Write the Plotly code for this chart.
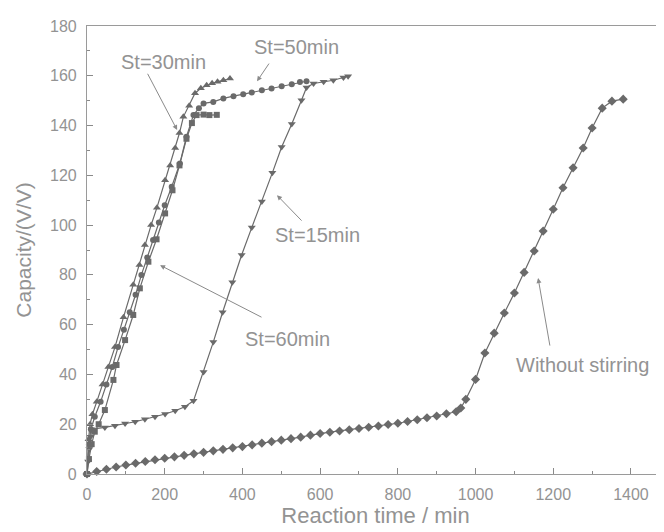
import plotly.graph_objects as go

# ---- data ----
t15 = [0, 3, 6, 9, 12, 46, 72, 98, 124, 149, 175, 201, 227, 252, 274, 300, 325, 349, 374, 398, 424, 450, 477, 501, 527, 552, 565, 583, 609, 634, 660, 672]
c15 = [0, 5, 10, 15, 18, 18.7, 19.4, 20.3, 21.0, 22.0, 23.0, 24.1, 25.4, 27.0, 29.4, 41, 53, 65, 77, 88, 99, 109.5, 121, 131.4, 140.6, 150.2, 155.3, 156.9, 157.6, 158.2, 159.3, 159.8]

t30 = [0, 4, 8, 14, 25, 40, 55, 72, 94, 119, 135, 149, 165, 180, 201, 214, 227, 238, 248, 263, 278, 293, 308, 322, 336, 351, 368]
c30 = [0, 14, 20, 24, 29, 36, 43, 51, 63, 76, 84, 92, 100, 107, 118, 124, 131, 137, 143.5, 148, 153, 155, 156.2, 157, 157.6, 158.2, 158.9]

t50 = [0, 5, 10, 20, 35, 50, 65, 80, 95, 110, 125, 140, 155, 170, 185, 200, 218, 239, 256, 274, 288, 300, 325, 351, 377, 402, 424, 450, 475, 501, 527, 548, 565]
c50 = [0, 12, 18, 23, 29, 36, 43, 51, 58, 65, 72, 80, 87, 94, 101, 108, 115.4, 124.8, 135.5, 144.2, 147, 148.9, 149.5, 150.9, 151.8, 152.6, 153.3, 154.2, 154.9, 155.8, 156.6, 157.5, 157.8]

t60 = [0, 5, 12, 20, 30, 46, 68, 76, 98, 119, 136, 158, 179, 201, 220, 238, 256, 270, 282, 300, 315, 334]
c60 = [0, 6, 12, 17, 20, 25.7, 37.8, 43.8, 53.8, 63.9, 74.6, 85.3, 94.3, 104.7, 114, 124, 134.7, 141, 144.2, 144.4, 144.2, 144.3]

t0 = [0, 25, 50, 75, 100, 125, 150, 175, 200, 225, 250, 275, 300, 325, 350, 375, 400, 425, 450, 475,
      500, 525, 550, 575, 600, 625, 650, 675, 700, 725, 750, 775, 800, 825, 850, 875, 900, 925, 950, 962,
      975, 1000, 1024, 1048, 1074, 1100, 1125, 1151, 1174, 1200, 1225, 1251, 1277, 1300, 1326, 1351, 1380]
c0 = [0, 1.0, 1.9, 2.8, 3.6, 4.3, 5.0, 5.7, 6.3, 6.9, 7.5, 8.1, 8.7, 9.3, 9.9, 10.5, 11.0, 11.7, 12.4, 13.0,
      13.6, 14.2, 14.8, 15.6, 16.3, 16.8, 17.3, 17.8, 18.3, 18.8, 19.3, 19.9, 20.4, 21.1, 21.8, 22.6, 23.3, 24.2, 25.0, 26.5,
      30, 38, 48.6, 56.6, 64.7, 72.7, 81, 89.6, 97.6, 106.4, 115, 123, 131, 139, 147, 149.8, 150.6]

x_ticks = [0, 200, 400, 600, 800, 1000, 1200, 1400]
y_ticks = [0, 20, 40, 60, 80, 100, 120, 140, 160, 180]

LINE = "#6a6a6a"
TXT = "#939393"
FONT = "Liberation Sans, Arial, sans-serif"

fig = go.Figure()
series = [
    ("St=15min", t15, c15, "triangle-down", 7),
    ("St=30min", t30, c30, "triangle-up", 7),
    ("St=50min", t50, c50, "circle", 6),
    ("St=60min", t60, c60, "square", 6),
    ("Without stirring", t0, c0, "diamond", 7),
]
for name, xs, ys, sym, sz in series:
    fig.add_trace(go.Scatter(
        x=xs, y=ys, name=name, mode="lines+markers",
        line=dict(color=LINE, width=1.2),
        marker=dict(symbol=sym, size=sz, color=LINE),
        cliponaxis=False, showlegend=False,
    ))

# arrows (tail -> tip) and labels
arrows = [
    (154, 161.4, 232, 138.2),
    (471, 165.5, 437.6, 157.8),
    (556, 101.2, 489, 112),
    (453, 62.7, 188, 83.9),
    (1192, 51, 1161, 78.7),
]
for ax_, ay_, x_, y_ in arrows:
    fig.add_annotation(x=x_, y=y_, ax=ax_, ay=ay_, xref="x", yref="y", axref="x", ayref="y",
                       text="", showarrow=True, arrowhead=2, arrowsize=1, arrowwidth=1,
                       arrowcolor="#8a8a8a")

labels = [
    ("St=30min", 196, 165.5),
    ("St=50min", 538, 171.5),
    ("St=15min", 592, 96),
    ("St=60min", 517, 54.2),
    ("Without stirring", 1274, 43.8),
]
for txt, x_, y_ in labels:
    fig.add_annotation(x=x_, y=y_, xref="x", yref="y", text=txt, showarrow=False,
                       font=dict(family=FONT, size=20, color=TXT))

axis_common = dict(
    showgrid=False, zeroline=False, showline=True, linecolor="#9a9a9a", linewidth=1.2,
    ticks="inside", ticklen=6, tickcolor="#8a8a8a", tickwidth=1,
    tickfont=dict(family=FONT, size=16, color=TXT), automargin=False,
)
fig.update_xaxes(
    **axis_common, range=[0, 1485], tickvals=x_ticks, mirror=True,
    minor=dict(ticks="inside", ticklen=3, dtick=100, tickcolor="#8a8a8a"),
    title=dict(text="Reaction time / min", font=dict(family=FONT, size=22, color=TXT), standoff=2),
    ticklabelstandoff=6,
)
fig.update_yaxes(
    **axis_common, range=[0, 180], tickvals=y_ticks,
    minor=dict(ticks="inside", ticklen=3, dtick=10, tickcolor="#8a8a8a"),
    title=dict(text="Capacity/(V/V)", font=dict(family=FONT, size=21, color=TXT), standoff=12),
    ticklabelstandoff=6,
)
# the page body has an 8px default margin, so the figure is sized/offset to compensate
fig.update_layout(
    width=656, height=524,
    margin=dict(l=79, r=0, t=18, b=58),
    paper_bgcolor="white", plot_bgcolor="white",
)
fig.write_html("out.html")
